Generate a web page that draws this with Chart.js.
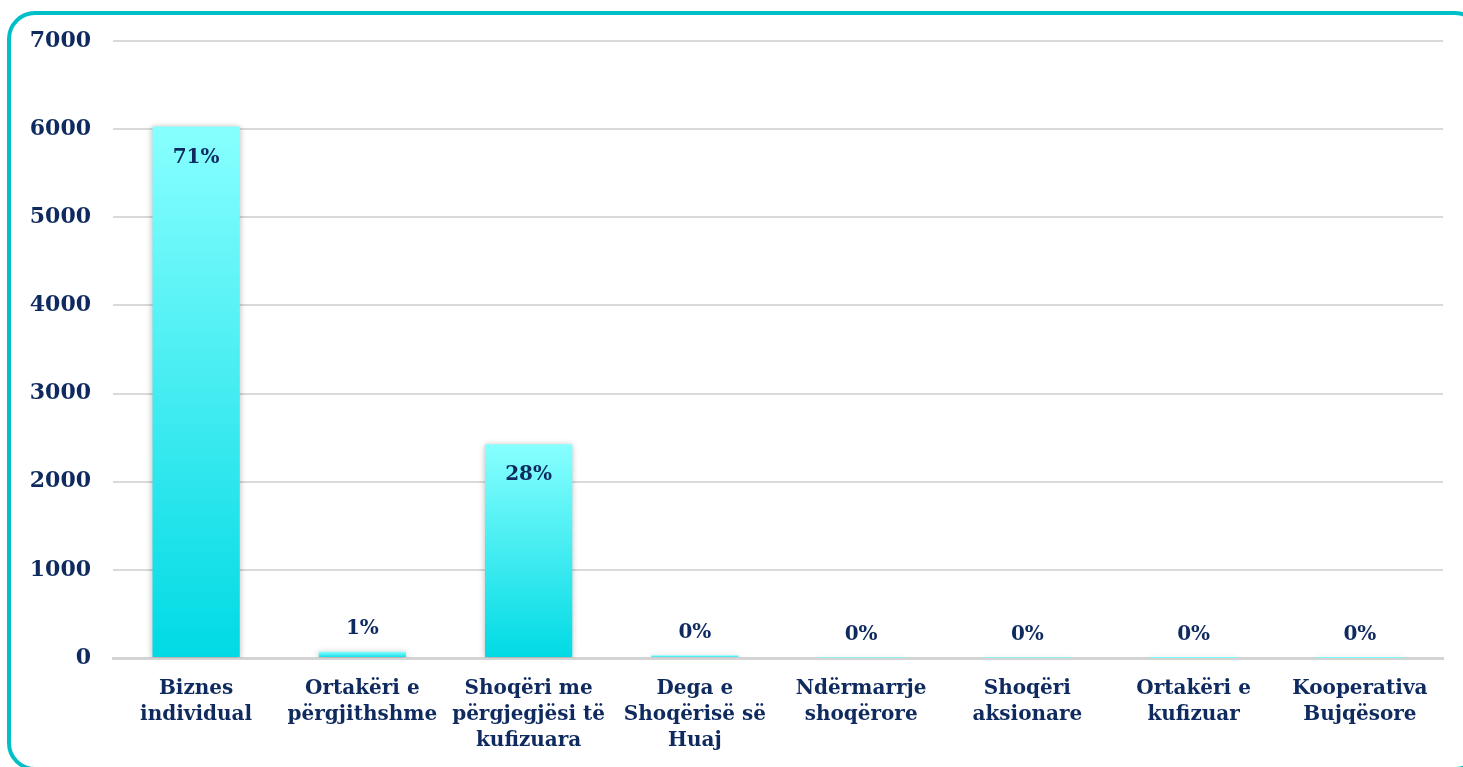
<!DOCTYPE html>
<html>
<head>
<meta charset="utf-8">
<script src="https://cdn.jsdelivr.net/npm/chart.js"></script>
<style>
  html, body { margin: 0; padding: 0; background: #fff; overflow: hidden; }
  .frame {
    position: absolute; left: 7px; top: 11px; width: 1468px; height: 752px;
    border: 4px solid #00BFC7; border-radius: 28px;
  }
  #chart { position: absolute; left: 0; top: 0; }
</style>
</head>
<body>
<div class="frame"></div>
<canvas id="chart" width="1463" height="767"></canvas>
<script>
// Legal forms of businesses
const categories = [
  ['Biznes', 'individual'],
  ['Ortakëri e', 'përgjithshme'],
  ['Shoqëri me', 'përgjegjësi të', 'kufizuara'],
  ['Dega e', 'Shoqërisë së', 'Huaj'],
  ['Ndërmarrje', 'shoqërore'],
  ['Shoqëri', 'aksionare'],
  ['Ortakëri e', 'kufizuar'],
  ['Kooperativa', 'Bujqësore']
];
const counts = [6030, 70, 2425, 30, 3, 2, 1, 1];
const shares = ['71%', '1%', '28%', '0%', '0%', '0%', '0%', '0%'];
const yTicks = [0, 1000, 2000, 3000, 4000, 5000, 6000, 7000];

const navy = '#0F2A5F';
const fontFamily = '"DejaVu Serif", "Liberation Serif", serif';

function barGradient(context) {
  const chart = context.chart;
  if (!chart.chartArea || !chart.scales.y) return '#40E8F0';
  const v = context.raw;
  const yTop = chart.scales.y.getPixelForValue(v);
  const yBase = chart.scales.y.getPixelForValue(0);
  if (yBase - yTop < 1) return '#80F8F8';
  const g = chart.ctx.createLinearGradient(0, yBase, 0, yTop);
  g.addColorStop(0, '#00DAE4');
  g.addColorStop(1, '#88FFFF');
  return g;
}

// soft shadow around the bars
const barShadow = {
  id: 'barShadow',
  beforeDatasetDraw(chart) {
    const ctx = chart.ctx;
    ctx.save();
    ctx.shadowColor = 'rgba(0,0,0,0.28)';
    ctx.shadowBlur = 6;
    ctx.shadowOffsetX = 0;
    ctx.shadowOffsetY = 1;
  },
  afterDatasetDraw(chart) {
    chart.ctx.restore();
  }
};

// percentage labels: inside tall bars, above small ones
const shareLabels = {
  id: 'shareLabels',
  afterDatasetsDraw(chart) {
    const ctx = chart.ctx;
    const meta = chart.getDatasetMeta(0);
    ctx.save();
    ctx.fillStyle = navy;
    ctx.font = 'bold 20px ' + fontFamily;
    ctx.textAlign = 'center';
    ctx.textBaseline = 'middle';
    meta.data.forEach((bar, i) => {
      const h = bar.base - bar.y;
      const y = h > 80 ? bar.y + 31 : bar.y - 23;
      ctx.fillText(shares[i], bar.x, y);
    });
    ctx.restore();
  }
};

new Chart(document.getElementById('chart'), {
  type: 'bar',
  data: {
    labels: categories,
    datasets: [{
      data: counts,
      backgroundColor: barGradient,
      borderWidth: 0,
      barPercentage: 0.7,
      categoryPercentage: 0.75
    }]
  },
  options: {
    responsive: false,
    animation: false,
    layout: { padding: { top: 41, right: 20, left: 0, bottom: 0 } },
    plugins: {
      legend: { display: false },
      tooltip: { enabled: false }
    },
    scales: {
      y: {
        min: 0,
        max: 7000,
        afterBuildTicks(scale) {
          scale.ticks = yTicks.map(v => ({ value: v }));
        },
        afterFit(scale) { scale.width = 113; },
        grid: { color: '#D9D9D9', lineWidth: 2, drawTicks: false },
        border: { display: false },
        ticks: {
          color: navy,
          padding: 22,
          callback: v => String(v),
          font: { family: fontFamily, size: 22, weight: 'bold' }
        }
      },
      x: {
        afterFit(scale) { scale.height = 109; },
        grid: { display: false },
        border: { color: '#D4D4D4', width: 3 },
        ticks: {
          color: navy,
          padding: 10,
          maxRotation: 0,
          autoSkip: false,
          font: { family: fontFamily, size: 20, weight: 'bold', lineHeight: 1.3 }
        }
      }
    }
  },
  plugins: [barShadow, shareLabels]
});
</script>
</body>
</html>
